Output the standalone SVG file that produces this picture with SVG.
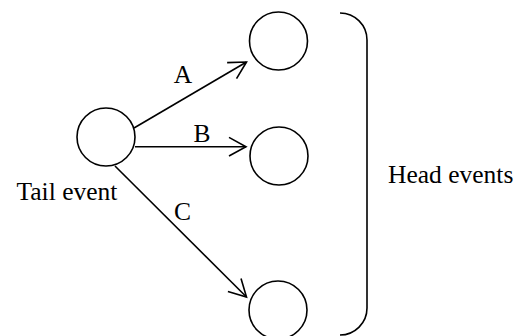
<svg xmlns="http://www.w3.org/2000/svg" width="519" height="336" viewBox="0 0 519 336">
<style>
.node{fill:#fff;stroke:#000;stroke-width:1.6}
.edge{fill:none;stroke:#000;stroke-width:1.6}
.lbl{font-family:"Liberation Serif","Times New Roman",serif;font-size:25.5px;fill:#000}
</style>
<defs>
<marker id="arr" markerUnits="userSpaceOnUse" markerWidth="20" markerHeight="22" viewBox="-19 -11 20 22" refX="0" refY="0" orient="auto" overflow="visible">
<path d="M-17,-9.3 L0,0 L-17,9.3" fill="none" stroke="#000" stroke-width="1.6"/>
</marker>
</defs>
<g id="connectors">
<line class="edge" x1="134" y1="128" x2="246.5" y2="62" marker-end="url(#arr)"/>
<line class="edge" x1="135" y1="146.7" x2="246" y2="146.7" marker-end="url(#arr)"/>
<line class="edge" x1="115" y1="166" x2="246.5" y2="297" marker-end="url(#arr)"/>
<text class="lbl" x="183" y="82.7" text-anchor="middle">A</text>
<text class="lbl" x="202" y="142.3" text-anchor="middle">B</text>
<text class="lbl" x="182.5" y="219.5" text-anchor="middle">C</text>
</g>
<g id="tail">
<circle class="node" cx="106" cy="137" r="29"/>
<text class="lbl" x="16.5" y="200">Tail event</text>
</g>
<g id="head1"><circle class="node" cx="278.5" cy="41" r="29"/></g>
<g id="head2"><circle class="node" cx="279" cy="156" r="29"/></g>
<g id="head3"><circle class="node" cx="278" cy="310" r="29"/></g>
<g id="head-group">
<path class="edge" d="M340,13 A27,27 0 0 1 367,40 L367,308 A27,27 0 0 1 340,335"/>
<text class="lbl" x="388" y="182.7">Head events</text>
</g>
</svg>
